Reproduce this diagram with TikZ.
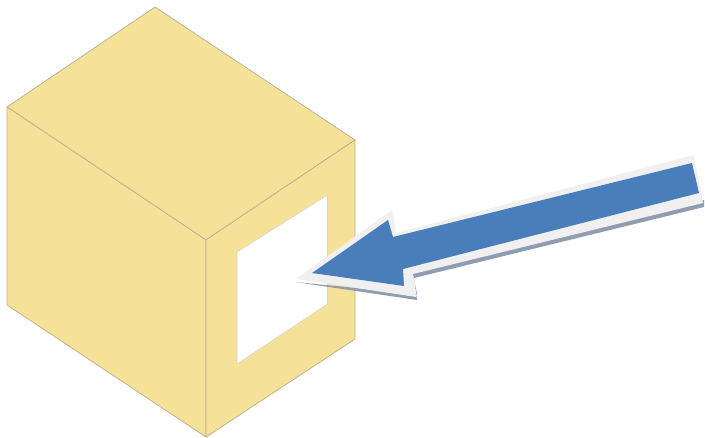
\documentclass[tikz,border=0pt]{standalone}
\definecolor{boxfill}{HTML}{F5E298}
\definecolor{boxline}{HTML}{BDB28E}
\definecolor{arrowblue}{HTML}{4A7EBB}
\definecolor{arrowrim}{HTML}{F0F0F0}
\definecolor{arrowshadow}{HTML}{8E9DB0}
\tikzset{face/.style={fill=boxfill,draw=boxline,line width=0.8pt,line join=round}}
\begin{document}
\begin{tikzpicture}[x=1pt,y=-1pt]
\useasboundingbox (0,0) rectangle (705,438);
\fill[white] (0,0) rectangle (705,438);
% cube
\draw[face] (155,7) -- (355,140) -- (206,240) -- (7,107) -- cycle;
\draw[face] (7,107) -- (206,240) -- (206,437) -- (7,305) -- cycle;
\draw[face] (206,240) -- (355,140) -- (355,339) -- (206,437) -- cycle;
\fill[white,draw=boxline!55,line width=0.6pt,line join=round] (237,252) -- (327.5,195) -- (327.5,304) -- (237,364) -- cycle;
% arrow shadow
\fill[arrowshadow] (295,282) -- (417,300) -- (414,278) -- (704,207) -- (704,200) -- (412,270) -- (417,294) -- cycle;
% arrow rim
\fill[arrowrim,line join=round] (296,279) -- (392,210) -- (396,233) -- (694,155) -- (703,203) -- (413,274) -- (416,297) -- cycle;
% arrow body
\fill[arrowblue] (312,273) -- (388,220) -- (393,237) -- (692,163) -- (699,193) -- (403,269) -- (404,286) -- cycle;
\end{tikzpicture}
\end{document}
